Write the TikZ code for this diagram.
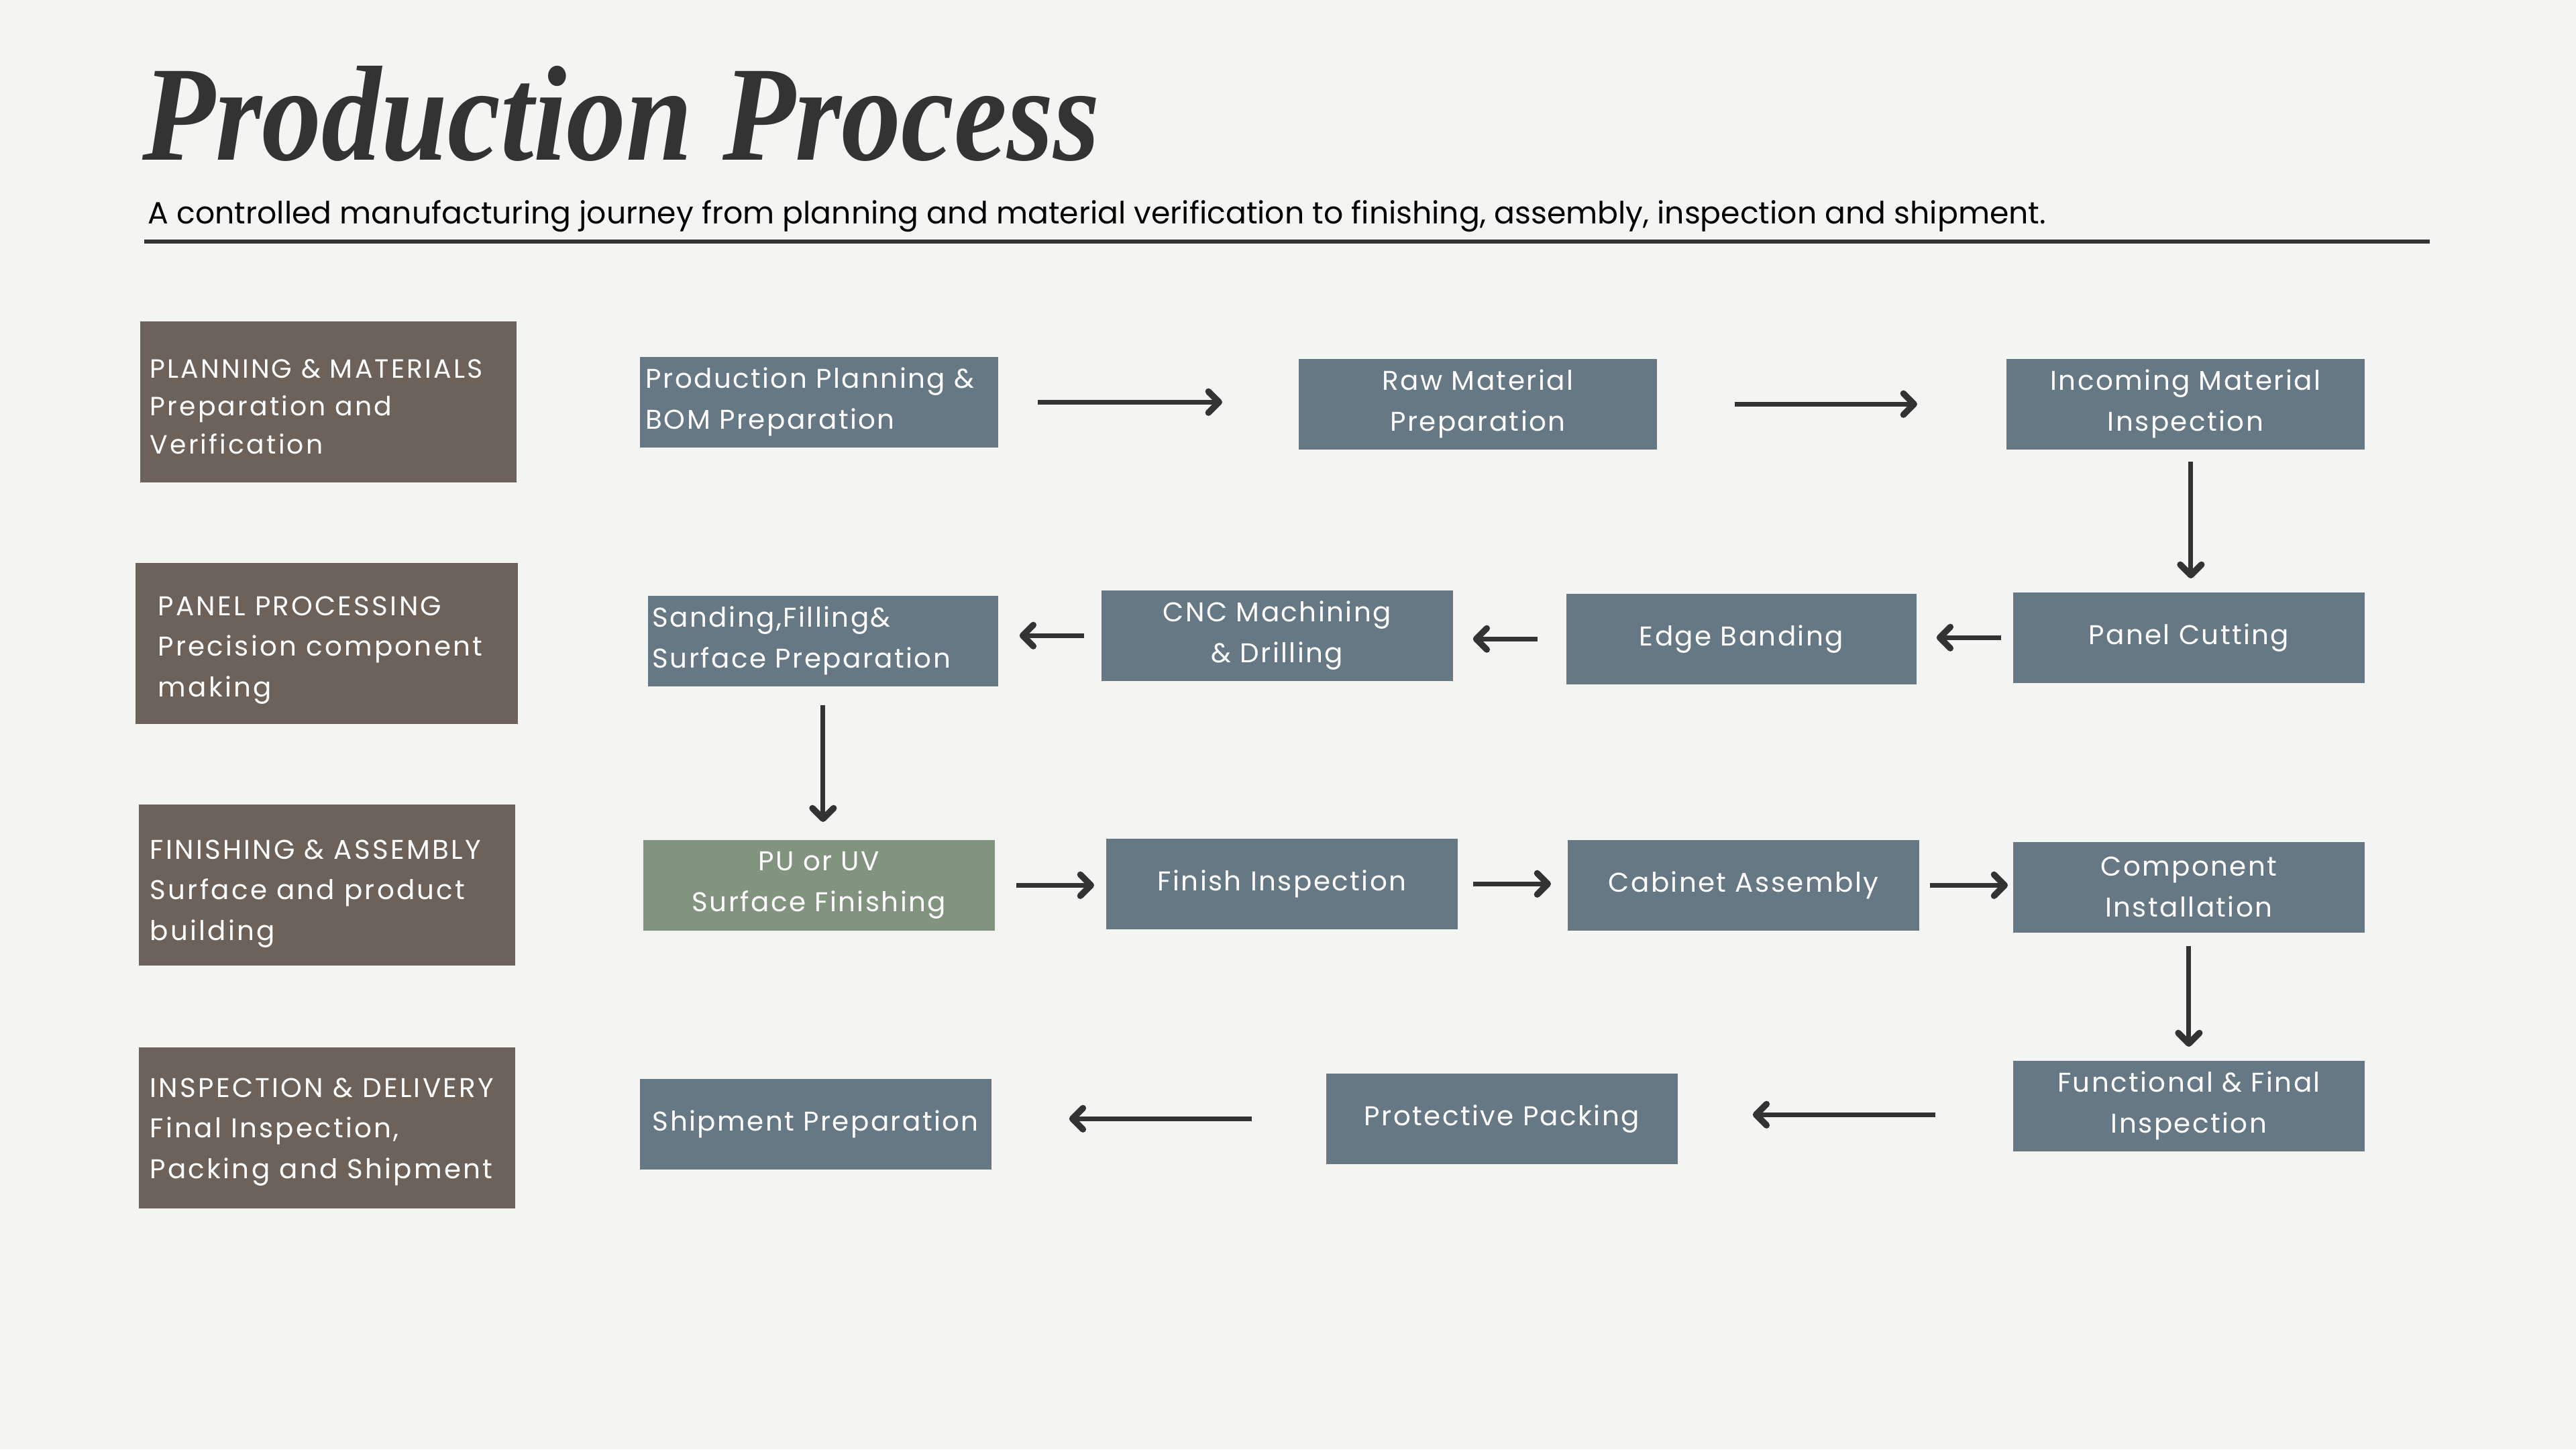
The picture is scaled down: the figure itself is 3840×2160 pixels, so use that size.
\documentclass[tikz,border=0pt]{standalone}
\usepackage{fontspec}
\setmainfont{Poppins}
\newfontfamily\titlefont{Liberation Serif}
\newfontfamily\boxfont[LetterSpace=6]{Poppins}
\newfontfamily\stagefont[LetterSpace=8]{Poppins}
\usetikzlibrary{arrows.meta,calc}
\definecolor{bg}{HTML}{F4F4F2}
\definecolor{brownbox}{HTML}{6C6259}
\definecolor{slate}{HTML}{667884}
\definecolor{sage}{HTML}{829480}
\definecolor{ink}{HTML}{333333}
\tikzset{
  procbox/.style={fill=slate, anchor=north west, minimum width=5.24cm, minimum height=1.35cm,
    inner sep=0pt, text=white, align=center, font=\boxfont\fontsize{11.5}{17.3}\selectfont},
  procleft/.style={procbox, text width=5.16cm, inner xsep=0.09cm, align=left},
  stagebox/.style={fill=brownbox, anchor=north west, minimum width=5.61cm, minimum height=2.40cm, inner sep=0pt},
  stagetext/.style={anchor=base west, inner sep=0pt, text=white, align=left,
    font=\stagefont\fontsize{11.5}{17.2}\selectfont},
  arr/.style={draw=ink, line width=2pt, line cap=butt,
    -{Straight Barb[length=4.5pt,width=9pt,line width=2.7pt,round]}},
}
\begin{document}
\begin{tikzpicture}[x=0.01cm,y=-0.01cm]
\fill[bg] (0,0) rectangle (3840,2160);
\useasboundingbox (0,0) rectangle (3840,2160);
% title
\node[anchor=base west, inner sep=0pt, text=ink] (title) at (212,238)
  {\resizebox{14.26cm}{1.40cm}{\titlefont\bfseries\itshape Production Process}};
\node[anchor=base west, inner sep=0pt, text=black, font=\fontsize{13}{15}\selectfont] (subtitle) at (220,333)
  {A controlled manufacturing journey from planning and material verification to finishing, assembly, inspection and shipment.};
\coordinate (ruleL) at (215,360);
\coordinate (ruleR) at (3622,360);
\draw[ink, line width=0.06cm] (ruleL) -- (ruleR);
% stage boxes
\node[stagebox] (s1) at (208,478) {};
\node[stagebox, minimum width=5.70cm] (s2) at (201,838) {};
\node[stagebox] (s3) at (206,1198) {};
\node[stagebox] (s4) at (206,1560) {};
\node[stagetext, font=\stagefont\fontsize{11.2}{16}\selectfont] (s1t) at (223,676)
  {PLANNING \& MATERIALS\\Preparation and\\Verification};
\node[stagetext] (s2t) at (235,1038) {PANEL PROCESSING\\Precision component\\making};
\node[stagetext] (s3t) at (223,1401) {FINISHING \& ASSEMBLY\\Surface and product\\building};
\node[stagetext] (s4t) at (223,1756) {INSPECTION \& DELIVERY\\Final Inspection,\\Packing and Shipment};
% row 1
\node[procleft, minimum width=5.34cm] (pp) at (953,531) {Production Planning \&\\BOM Preparation};
\node[procbox, minimum width=5.34cm] (rm) at (1935,534) {Raw Material\\Preparation};
\node[procbox, minimum width=5.34cm] (inc) at (2990,534) {Incoming Material\\Inspection};
% row 2
\node[procbox] (pc) at (3000,882) {Panel Cutting};
\node[procbox, minimum width=5.22cm] (eb) at (2334,884) {Edge Banding};
\node[procbox] (cnc) at (1641,879) {CNC Machining\\\& Drilling};
\node[procleft, minimum width=5.22cm, text width=5.08cm, inner xsep=0.07cm] (sand) at (965,887) {Sanding,Filling\&\\Surface Preparation};
% row 3
\node[procbox, fill=sage] (pu) at (958,1251) {PU or UV\\Surface Finishing};
\node[procbox] (fi) at (1648,1249) {Finish Inspection};
\node[procbox] (ca) at (2336,1251) {Cabinet Assembly};
\node[procbox] (ci) at (3000,1254) {Component\\Installation};
% row 4
\node[procbox] (ff) at (3000,1580) {Functional \& Final\\Inspection};
\node[procbox] (pk) at (1976,1599) {Protective Packing};
\node[procbox] (sp) at (953,1607) {Shipment Preparation};
% helper coordinates
\coordinate (incS) at ($(inc.south)+(8,0)$);
\coordinate (pcN) at (incS |- pc.north);
\coordinate (ffW) at ($(ff.west)+(0,13)$);
\coordinate (pkE) at (ffW -| pk.east);
% arrows
\draw[arr, shorten <=0.58cm, shorten >=1.13cm] (pp.east) -- (pp.east -| rm.west);
\draw[arr, shorten <=1.15cm, shorten >=1.32cm] (rm.east) -- (rm.east -| inc.west);
\draw[arr, shorten <=0.17cm, shorten >=0.20cm] (incS) -- (pcN);
\draw[arr, shorten <=0.17cm, shorten >=0.29cm] (pc.west) -- (pc.west -| eb.east);
\draw[arr, shorten <=0.42cm, shorten >=0.29cm] (eb.west) -- (eb.west -| cnc.east);
\draw[arr, shorten <=0.25cm, shorten >=0.31cm] (cnc.west) -- (cnc.west -| sand.east);
\draw[arr, shorten <=0.27cm, shorten >=0.26cm] (sand.south) -- (sand.south |- pu.north);
\draw[arr, shorten <=0.31cm, shorten >=0.17cm] (pu.east) -- (pu.east -| fi.west);
\draw[arr, shorten <=0.22cm, shorten >=0.24cm] (fi.east) -- (fi.east -| ca.west);
\draw[arr, shorten <=0.15cm, shorten >=0.07cm] (ca.east) -- (ca.east -| ci.west);
\draw[arr, shorten <=0.19cm, shorten >=0.20cm] (ci.south) -- (ci.south |- ff.north);
\draw[arr, shorten <=1.15cm, shorten >=1.11cm] (ffW) -- (pkE);
\draw[arr, shorten <=1.10cm, shorten >=1.15cm] (pk.west) -- (pk.west -| sp.east);
\end{tikzpicture}
\end{document}
